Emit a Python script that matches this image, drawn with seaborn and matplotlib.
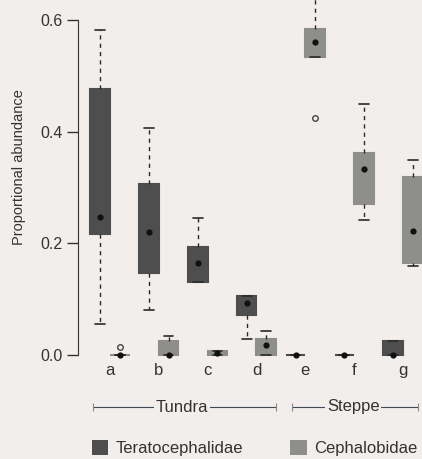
import numpy as np
import pandas as pd
import seaborn as sns
import matplotlib.pyplot as plt
from matplotlib.patches import Patch
from matplotlib.transforms import blended_transform_factory

sites = ["a", "b", "c", "d", "e", "f", "g"]
families = ["Teratocephalidae", "Cephalobidae"]

# Five-number summaries, one value per site
tera_low = [0.056, 0.081, 0.131, 0.029, 0.0, 0.0, 0.0]
tera_q1 = [0.216, 0.146, 0.131, 0.072, 0.0, 0.0, 0.0]
tera_med = [0.247, 0.220, 0.165, 0.094, 0.0, 0.0, 0.0]
tera_q3 = [0.476, 0.306, 0.193, 0.106, 0.0, 0.0, 0.025]
tera_high = [0.582, 0.407, 0.245, 0.106, 0.0, 0.0, 0.025]

ceph_low = [0.0, 0.0, 0.0, 0.0, 0.533, 0.241, 0.160]
ceph_q1 = [0.0, 0.0, 0.0, 0.0, 0.533, 0.270, 0.164]
ceph_med = [0.0, 0.0, 0.003, 0.018, 0.560, 0.333, 0.223]
ceph_q3 = [0.0, 0.025, 0.007, 0.029, 0.584, 0.362, 0.319]
ceph_high = [0.0, 0.034, 0.007, 0.043, 0.650, 0.449, 0.350]

# Outlying points
outlier_family = ["Cephalobidae", "Cephalobidae"]
outlier_site = ["a", "e"]
outlier_value = [0.014, 0.425]

summaries = {
    "Teratocephalidae": (tera_low, tera_q1, tera_med, tera_q3, tera_high),
    "Cephalobidae": (ceph_low, ceph_q1, ceph_med, ceph_q3, ceph_high),
}

# Expand each summary into 9 values whose quartiles reproduce it
rows = []
for fam, (lo, q1, md, q3, hi) in summaries.items():
    for i, s in enumerate(sites):
        vals = [lo[i], lo[i], q1[i], md[i], md[i], md[i], q3[i], hi[i], hi[i]]
        for of, os_, ov in zip(outlier_family, outlier_site, outlier_value):
            if of == fam and os_ == s:
                if ov < q1[i]:
                    vals[0] = ov
                else:
                    vals[-1] = ov
        for v in vals:
            rows.append({"site": s, "family": fam, "value": v})
df = pd.DataFrame(rows)

med_df = pd.DataFrame({
    "site": sites * 2,
    "family": [families[0]] * 7 + [families[1]] * 7,
    "median": tera_med + ceph_med,
})

bg = "#f1eeec"
palette = {"Teratocephalidae": "#4e4e4e", "Cephalobidae": "#8e8e8a"}

sns.set_style("ticks")
plt.rcParams["font.family"] = ["Liberation Sans", "DejaVu Sans"]

fig = plt.figure(figsize=(4.22, 4.59), dpi=100, facecolor=bg)
ax = fig.add_axes([78 / 422, (459 - 362) / 459, (422 - 78) / 422, 362 / 459])
ax.set_facecolor(bg)

sns.boxplot(
    data=df, x="site", y="value", hue="family", order=sites, hue_order=families,
    palette=palette, width=0.8, linecolor="#2a2a2a", linewidth=1,
    whiskerprops={"linestyle": (0, (3, 3)), "linewidth": 1},
    capprops={"linewidth": 1.2},
    medianprops={"linewidth": 0},
    flierprops={"marker": "o", "markersize": 4, "markerfacecolor": "none",
                "markeredgecolor": "#444444"},
    legend=False, ax=ax,
)
# box outlines take the fill colour
for p in ax.patches:
    p.set_edgecolor(p.get_facecolor())
    p.set_linewidth(1.5)

sns.stripplot(
    data=med_df, x="site", y="median", hue="family", order=sites, hue_order=families,
    palette=["#111111", "#111111"], dodge=True, jitter=False, size=4.5,
    legend=False, ax=ax, zorder=5, clip_on=False,
)

ax.set_xlim(-0.656, 6.39)
ax.set_ylim(-0.0126, 0.636)
ax.set_xlabel("")
ax.set_ylabel("Proportional abundance", fontsize=10.5, color="#333333")
ax.yaxis.set_label_coords(-0.152, 0.539)
ax.set_yticks([0.0, 0.2, 0.4, 0.6])
ax.set_yticklabels(["0.0", "0.2", "0.4", "0.6"])
ax.tick_params(axis="y", length=8, width=1, labelsize=11.5, colors="#333333", pad=3)
ax.tick_params(axis="x", length=0, labelsize=12, colors="#333333", pad=1)
for side in ["top", "right", "bottom"]:
    ax.spines[side].set_visible(False)
ax.spines["left"].set_bounds(0, 0.6)
ax.spines["left"].set_color("#333333")

# Habitat brackets under the site labels
trans = blended_transform_factory(ax.transData, fig.transFigure)
yb = 1 - 407 / 459
for x0, x1, xt, name in [(-0.35, 3.4, 1.475, "Tundra"), (3.73, 6.3, 4.98, "Steppe")]:
    ax.plot([x0, x1], [yb, yb], color="#3a4a5a", lw=0.8, transform=trans, clip_on=False)
    ax.plot([x0, x1], [yb, yb], ls="none", marker="|", ms=6, mew=0.8, color="#888888",
            transform=trans, clip_on=False)
    ax.text(xt, yb, name, transform=trans, ha="center", va="center", fontsize=12,
            color="#333333", bbox=dict(facecolor=bg, edgecolor="none", pad=1.5))

handles = [Patch(facecolor=palette[f], edgecolor="none") for f in families]
fig.legend(handles, families, loc="center", bbox_to_anchor=(0.603, 1 - 448 / 459),
           ncol=2, frameon=False, fontsize=12, handlelength=1.0, handleheight=1.0,
           handletextpad=0.45, columnspacing=2.8, labelcolor="#333333")

fig.savefig("out.png", dpi=100, facecolor=bg)
